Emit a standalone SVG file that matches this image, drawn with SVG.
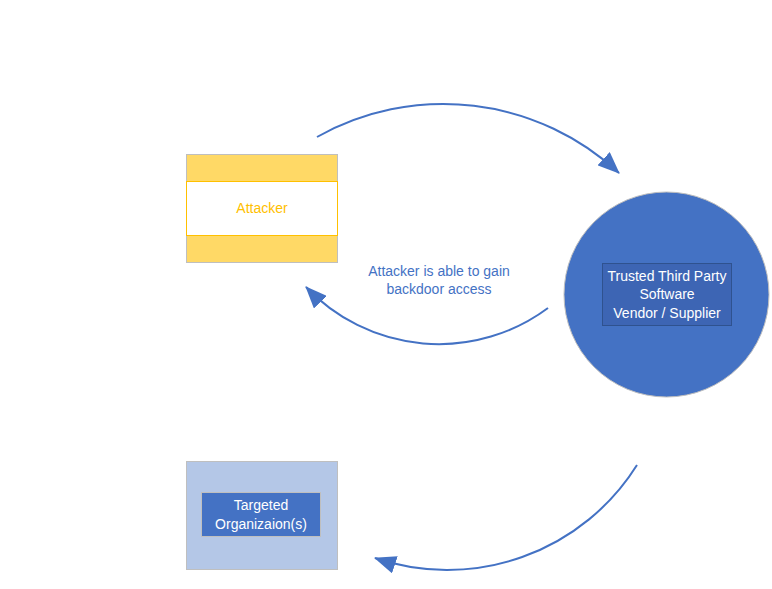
<svg xmlns="http://www.w3.org/2000/svg" width="772" height="589" viewBox="0 0 772 589">
<style>
text{font-family:"Liberation Sans","Noto Sans",sans-serif;font-size:14px;text-anchor:middle}
.w{fill:#ffffff}
.arc{fill:none;stroke:#4472C4;stroke-width:2;marker-end:url(#ah)}
</style>
<defs>
<marker id="ah" viewBox="0 0 22 18" refX="21" refY="9" markerWidth="22" markerHeight="18" markerUnits="userSpaceOnUse" orient="auto">
<path d="M0,0 L22,9 L0,18 z" fill="#4472C4"/>
</marker>
</defs>
<rect width="772" height="589" fill="#ffffff"/>
<g id="attacker">
<rect x="186.5" y="154.5" width="151" height="108" fill="#FFD966" stroke="#BFBFBF"/>
<rect x="186.5" y="181.5" width="151" height="54" fill="#ffffff" stroke="#FFC000"/>
<text x="262" y="213" fill="#FFC000">Attacker</text>
</g>
<g id="vendor">
<circle cx="666.5" cy="294.5" r="102.5" fill="#4472C4" stroke="#BFBFBF"/>
<rect x="602.5" y="263.5" width="129" height="62" fill="#3D65B4" stroke="#2F528F"/>
<text class="w" x="667" y="281">Trusted Third Party</text>
<text class="w" x="667" y="299">Software</text>
<text class="w" x="667" y="318">Vendor / Supplier</text>
</g>
<g id="targets">
<rect x="186.5" y="461.5" width="151" height="108" fill="#B4C7E7" stroke="#BFBFBF"/>
<rect x="201.5" y="492.5" width="119" height="44" fill="#4472C4" stroke="#BFBFBF"/>
<text class="w" x="261" y="510">Targeted</text>
<text class="w" x="261" y="529">Organizaion(s)</text>
</g>
<g id="label">
<text x="439" y="276" fill="#4472C4">Attacker is able to gain</text>
<text x="439" y="294" fill="#4472C4">backdoor access</text>
</g>
<g id="connectors">
<path class="arc" d="M317,137 A258,258 0 0 1 619,173"/>
<path class="arc" d="M548,308 A183,183 0 0 1 306,287"/>
<path class="arc" d="M637,465 A224,224 0 0 1 375,558"/>
</g>
</svg>
